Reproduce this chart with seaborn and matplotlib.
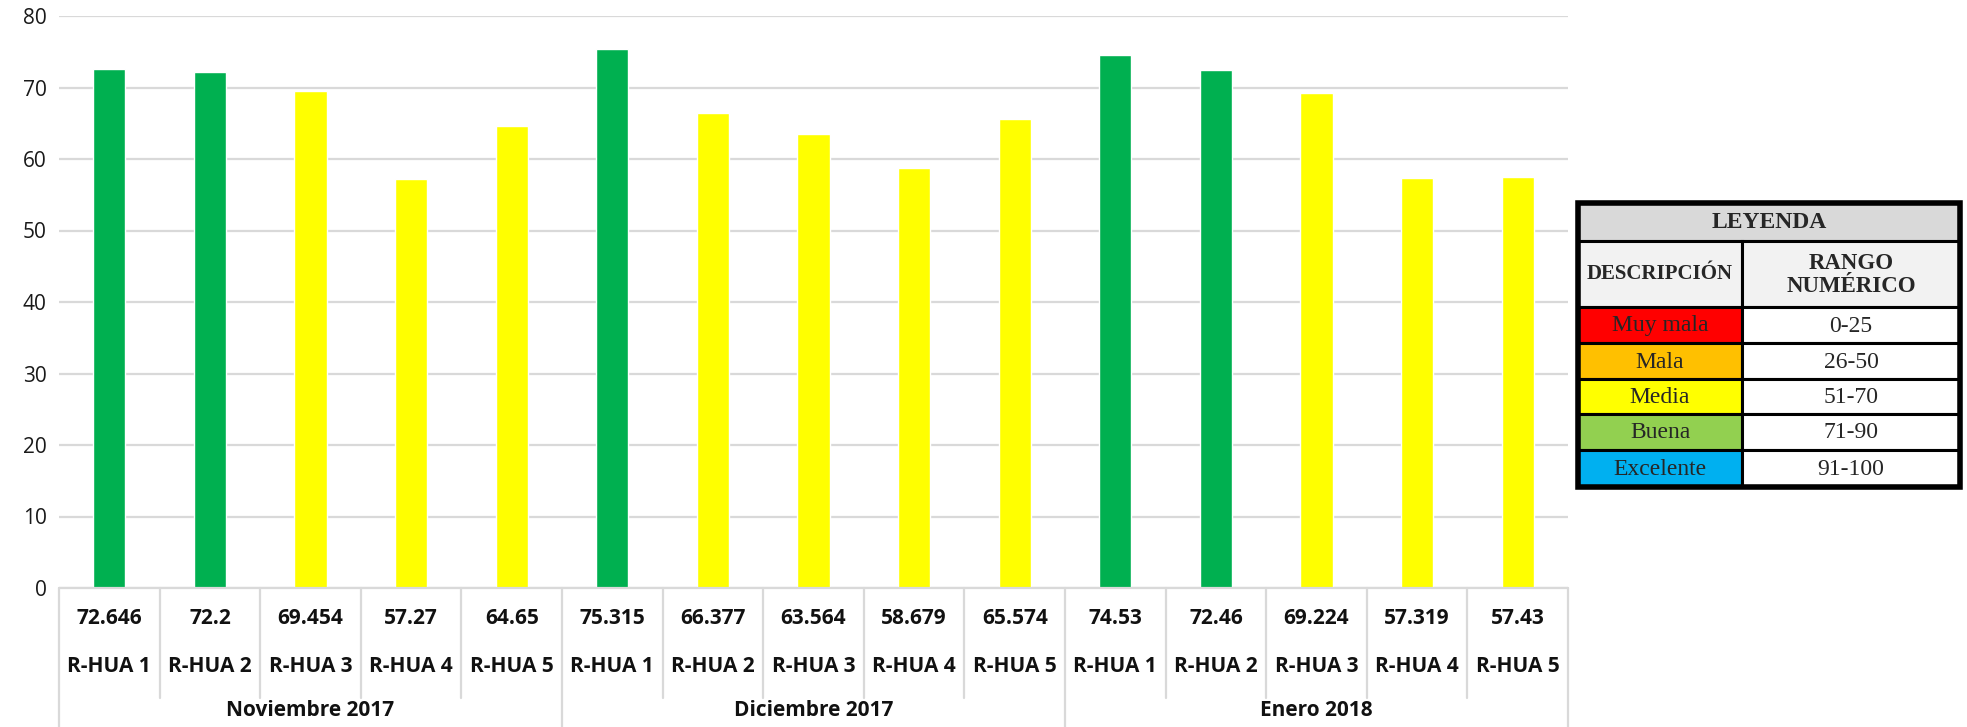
import matplotlib
matplotlib.use("Agg")
import matplotlib.pyplot as plt
from matplotlib.patches import Rectangle
import seaborn as sns
import pandas as pd

# --- data -------------------------------------------------------------
months = ["Noviembre 2017", "Diciembre 2017", "Enero 2018"]
stations = ["R-HUA 1", "R-HUA 2", "R-HUA 3", "R-HUA 4", "R-HUA 5"]
nov_2017 = [72.646, 72.2, 69.454, 57.27, 64.65]
dic_2017 = [75.315, 66.377, 63.564, 58.679, 65.574]
ene_2018 = [74.53, 72.46, 69.224, 57.319, 57.43]
value_labels = ["72.646", "72.2", "69.454", "57.27", "64.65",
                "75.315", "66.377", "63.564", "58.679", "65.574",
                "74.53", "72.46", "69.224", "57.319", "57.43"]

legend_desc = ["Muy mala", "Mala", "Media", "Buena", "Excelente"]
legend_range = ["0-25", "26-50", "51-70", "71-90", "91-100"]
legend_colors = ["#FF0000", "#FFC000", "#FFFF00", "#92D050", "#00B0F0"]

bar_palette = {"Buena": "#00B050", "Media": "#FFFF00"}

# --- frame ------------------------------------------------------------
rows = []
for m, vals in zip(months, [nov_2017, dic_2017, ene_2018]):
    for s, v in zip(stations, vals):
        rows.append({"month": m, "station": s, "value": v})
df = pd.DataFrame(rows)
df["pos"] = [str(i) for i in range(len(df))]
df["band"] = ["Buena" if v > 70 else "Media" for v in df["value"]]

sns.set_theme(style="white")
plt.rcParams["font.family"] = ["Open Sans", "DejaVu Sans"]

W, H = 1967, 727
fig = plt.figure(figsize=(W / 100, H / 100), dpi=100)

# main axes: x 59..1568 px, y 16..588 px (0..80)
L, R, T, B = 59, 1568, 16, 588
ax = fig.add_axes([L / W, (H - B) / H, (R - L) / W, (B - T) / H])

sns.barplot(data=df, x="pos", y="value", hue="band", palette=bar_palette,
            order=list(df["pos"]), dodge=False, width=0.32, saturation=1,
            legend=False, ax=ax)

ax.set_ylim(0, 80)
ax.set_xlim(-0.5, len(df) - 0.5)
ax.set_yticks(range(0, 81, 10))
ax.yaxis.grid(True, color="#D9D9D9", linewidth=1.6)
ax.set_axisbelow(True)
ax.set_xticks([])
ax.set_xlabel("")
ax.set_ylabel("")
for sp in ax.spines.values():
    sp.set_visible(False)
ax.tick_params(axis="y", length=0, pad=9, labelsize=15, labelcolor="#1a1a1a")

# category table under the axis
axh = B - T
def yfrac(py):
    return (B - py) / axh

trans = ax.get_xaxis_transform()
n = len(df)
line_kw = dict(color="#D9D9D9", linewidth=1.6, clip_on=False, transform=trans)
ax.plot([-0.5, n - 0.5], [0, 0], **line_kw)
for k in range(n + 1):
    x = k - 0.5
    bottom = yfrac(727) if k % 5 == 0 else yfrac(698)
    ax.plot([x, x], [0, bottom], **line_kw)

for i in range(n):
    ax.text(i, yfrac(618), value_labels[i], transform=trans, ha="center",
            va="center", fontsize=15, fontweight="bold", color="#111")
    ax.text(i, yfrac(666), df["station"][i], transform=trans, ha="center",
            va="center", fontsize=15, fontweight="bold", color="#111")
for g, m in enumerate(months):
    ax.text(g * 5 + 2, yfrac(711), m, transform=trans, ha="center",
            va="center", fontsize=15, fontweight="bold", color="#111")

# legend table
tx0, tx1, ty0, ty1 = 1578, 1960, 203, 487
axl = fig.add_axes([tx0 / W, (H - ty1) / H, (tx1 - tx0) / W, (ty1 - ty0) / H])
axl.set_xlim(tx0, tx1)
axl.set_ylim(ty1, ty0)
axl.axis("off")
serif = ["Liberation Serif", "DejaVu Serif"]
xm = 1742
row_edges = [203, 241, 307, 343, 379, 414, 450, 487]

def cell(x0, x1, y0, y1, fc):
    axl.add_patch(Rectangle((x0, y0), x1 - x0, y1 - y0, facecolor=fc,
                            edgecolor="#000", linewidth=2.2))

cell(tx0, tx1, row_edges[0], row_edges[1], "#D9D9D9")
axl.text((tx0 + tx1) / 2, (row_edges[0] + row_edges[1]) / 2 + 1, "LEYENDA",
         ha="center", va="center", fontsize=17, fontweight="bold", family=serif)
cell(tx0, xm, row_edges[1], row_edges[2], "#F2F2F2")
cell(xm, tx1, row_edges[1], row_edges[2], "#F2F2F2")
axl.text((tx0 + xm) / 2, (row_edges[1] + row_edges[2]) / 2, "DESCRIPCIÓN",
         ha="center", va="center", fontsize=15, fontweight="bold", family=serif)
axl.text((xm + tx1) / 2, (row_edges[1] + row_edges[2]) / 2 + 1, "RANGO\nNUMÉRICO",
         ha="center", va="center", fontsize=16.5, fontweight="bold", family=serif,
         linespacing=1.1)
for j, (d, r, c) in enumerate(zip(legend_desc, legend_range, legend_colors)):
    y0, y1 = row_edges[j + 2], row_edges[j + 3]
    cell(tx0, xm, y0, y1, c)
    cell(xm, tx1, y0, y1, "white")
    axl.text((tx0 + xm) / 2, (y0 + y1) / 2 + 1, d, ha="center", va="center",
             fontsize=17, family=serif)
    axl.text((xm + tx1) / 2, (y0 + y1) / 2 + 1, r, ha="center", va="center",
             fontsize=17, family=serif)
axl.add_patch(Rectangle((tx0, ty0), tx1 - tx0, ty1 - ty0, facecolor="none",
                        edgecolor="#000", linewidth=4, clip_on=False))

fig.savefig("out.png", dpi=100)
